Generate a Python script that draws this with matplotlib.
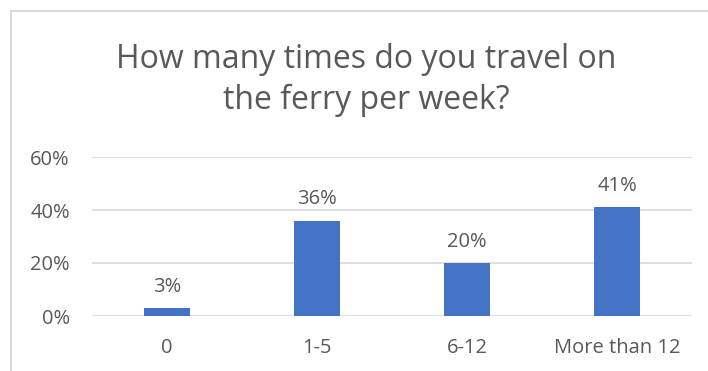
import matplotlib
matplotlib.use("Agg")
import matplotlib.pyplot as plt
from matplotlib.lines import Line2D

categories = ["0", "1-5", "6-12", "More than 12"]
shares = [0.03, 0.36, 0.20, 0.41]
y_ticks = [0.0, 0.2, 0.4, 0.6]
y_tick_labels = ["0%", "20%", "40%", "60%"]
title = "How many times do you travel on\nthe ferry per week?"

plt.rcParams["font.family"] = ["Open Sans", "DejaVu Sans"]
text_color = "#595959"
grid_color = "#D9D9D9"
bar_color = "#4472C4"

fig = plt.figure(figsize=(7.08, 3.71), dpi=100)
ax = fig.add_axes([92 / 708, 55 / 371, 600 / 708, 159 / 371])

x = range(len(categories))
ax.bar(x, shares, width=0.31, color=bar_color, zorder=3)
for xi, v in zip(x, shares):
    ax.text(xi, v + 0.042, f"{round(v * 100)}%", ha="center", va="bottom",
            fontsize=14.5, color=text_color)

ax.set_xlim(-0.5, len(categories) - 0.5)
ax.set_ylim(0, 0.6)
ax.set_yticks(y_ticks)
ax.set_yticklabels(y_tick_labels)
ax.set_xticks(list(x))
ax.set_xticklabels(categories)
ax.tick_params(axis="both", length=0, labelsize=14.5, labelcolor=text_color)
ax.tick_params(axis="y", pad=16)
ax.tick_params(axis="x", pad=16)
ax.yaxis.grid(True, color=grid_color, linewidth=1.2, zorder=0)
for s in ax.spines.values():
    s.set_visible(False)

fig.text(366 / 708, 1 - 80 / 371, title, ha="center", va="center",
         fontsize=23, color=text_color, linespacing=1.33)

# chart frame (top and left edges)
fig.add_artist(Line2D([11 / 708, 11 / 708], [0, 1 - 11 / 371],
                      color=grid_color, linewidth=1.5, transform=fig.transFigure))
fig.add_artist(Line2D([11 / 708, 1], [1 - 11 / 371, 1 - 11 / 371],
                      color=grid_color, linewidth=1.5, transform=fig.transFigure))

fig.savefig("out.png", dpi=100)
